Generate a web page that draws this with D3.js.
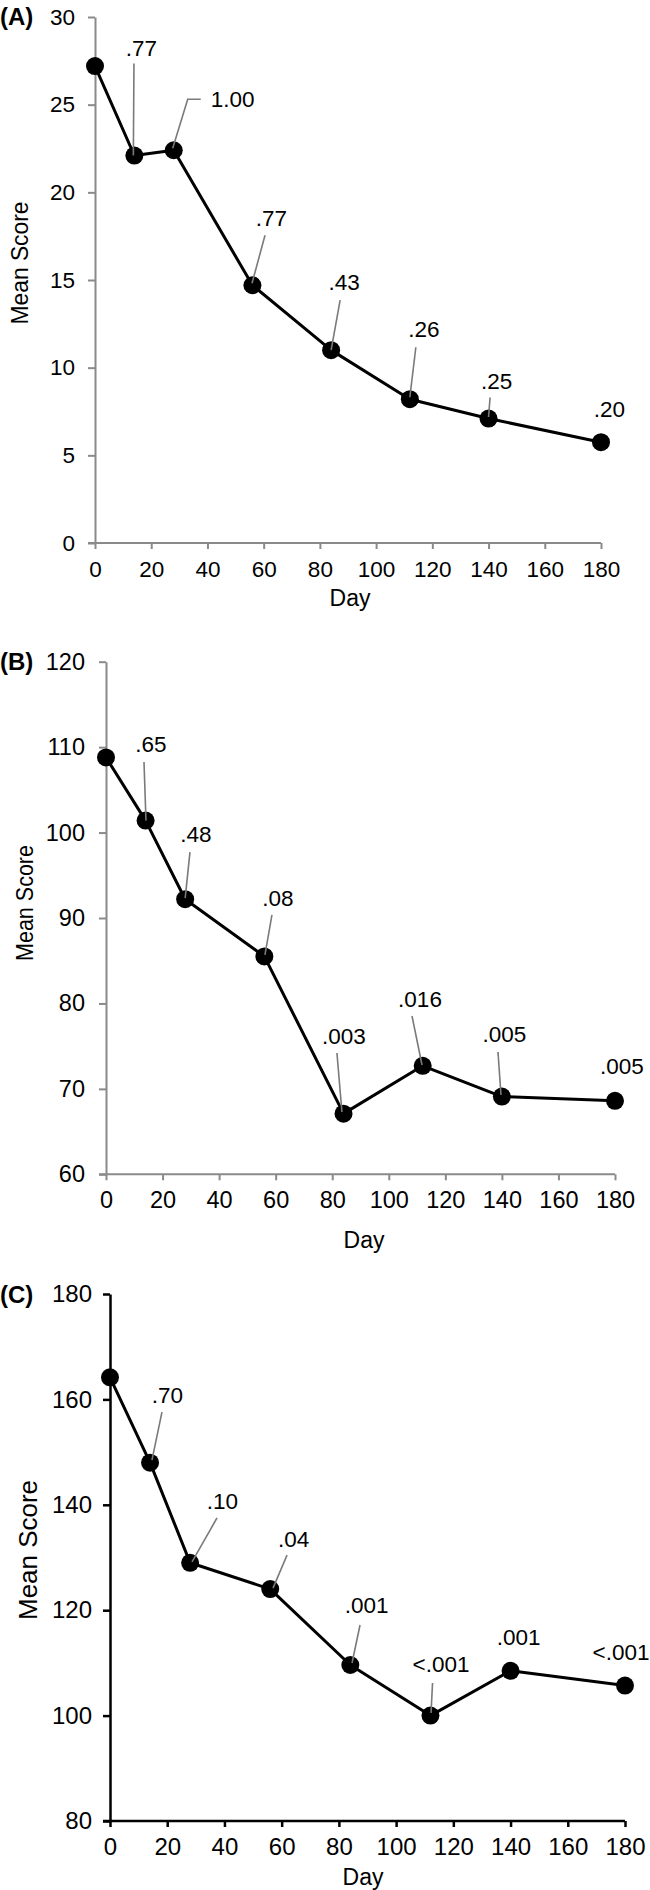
<!DOCTYPE html>
<html>
<head>
<meta charset="utf-8">
<script src="https://cdn.jsdelivr.net/npm/d3@7"></script>
<style>
  html, body { margin: 0; padding: 0; background: #fff; }
  svg { display: block; font-family: "Liberation Sans", Arial, sans-serif; }
</style>
</head>
<body>
<svg id="chart" width="650" height="1890"></svg>
<script>
// ---------------- DATA ----------------
const days = [0, 14, 28, 56, 84, 112, 140, 180];
const xTicks = [0, 20, 40, 60, 80, 100, 120, 140, 160, 180];

const scoresA = [27.2, 22.1, 22.4, 14.7, 11.0, 8.2, 7.1, 5.75];
const scoresB = [108.8, 101.4, 92.2, 85.5, 67.1, 72.7, 69.1, 68.6];
const scoresC = [164.2, 148.0, 129.0, 124.0, 109.6, 100.0, 108.5, 105.7];

const pValuesA = ["", ".77", "1.00", ".77", ".43", ".26", ".25", ".20"];
const pValuesB = ["", ".65", ".48", ".08", ".003", ".016", ".005", ".005"];
const pValuesC = ["", ".70", ".10", ".04", ".001", "<.001", ".001", "<.001"];

const yTicksA = [0, 5, 10, 15, 20, 25, 30];
const yTicksB = [60, 70, 80, 90, 100, 110, 120];
const yTicksC = [80, 100, 120, 140, 160, 180];

const panelLabels = ["(A)", "(B)", "(C)"];
const xTitle = "Day";
const yTitle = "Mean Score";

// ---------------- LAYOUT (pixels, not data) ----------------
// label: [dx, dy] text centre / baseline offset from the point
// lead: leader line points, offsets from the point (null = no leader)
const layoutA = {
  x0: 95, x1: 601, yTop: 17, yBot: 543, yDomain: [0, 30],
  axisColor: "#8a8a8a", axisWidth: 2, tickFont: 22.5, tickPadY: 13, tickPadX: 12,
  dayY: 606, dayX: 350, titleX: 28, titleY: 263, titleLen: 123, titleFont: 23,
  panelY: 25,
  label: [null, [7, -100], [59, -43], [19, -59], [13, -60], [14, -62], [8, -30], [8.5, -25]],
  lead: [null,
    [[-0.4, -92], [-1, 0]],
    [[27, -51], [14, -51], [-1, -2]],
    [[12.6, -50], [-0.4, -2]],
    [[9, -50], [0, 0]],
    [[6, -52], [0, -2]],
    [[1.5, -21], [0, -1.5]],
    null]
};
const layoutB = {
  x0: 106, x1: 615, yTop: 661.7, yBot: 1174.3, yDomain: [60, 120],
  axisColor: "#8a8a8a", axisWidth: 2, tickFont: 23.5, tickPadY: 14, tickPadX: 11.5,
  dayY: 1248, dayX: 364, titleX: 33, titleY: 903, titleLen: 116, titleFont: 24,
  panelY: 670,
  label: [null, [5.4, -68.6], [10.8, -57], [13.6, -50.5], [0.4, -69.6], [-2.7, -58.8], [2.6, -54.6], [7, -26.8]],
  lead: [null,
    [[-1.6, -58.6], [0.4, 0]],
    [[4.8, -47], [0, -1]],
    [[7.6, -41.5], [0.6, -1.5]],
    [[-6.6, -60.6], [-1.6, -1.6]],
    [[-10.7, -49.8], [-0.7, -0.8]],
    [[-3.9, -44.6], [-0.9, -1.6]],
    null]
};
const layoutC = {
  x0: 110, x1: 625, yTop: 1294, yBot: 1821, yDomain: [80, 180],
  axisColor: "#000", axisWidth: 2.5, tickFont: 24, tickPadY: 11, tickPadX: 11,
  dayY: 1885, dayX: 363, titleX: 36.5, titleY: 1550, titleLen: 140, titleFont: 26,
  panelY: 1303,
  label: [null, [17.4, -59.6], [32.4, -53.8], [23.3, -42], [16.2, -52], [10.6, -43.6], [8, -25.8], [-4, -25.6]],
  lead: [null,
    [[11.9, -50.6], [1.9, -2.6]],
    [[26.9, -44.8], [1.9, -0.8]],
    [[16.8, -34], [2.8, -1]],
    [[9.7, -40], [1.7, -2]],
    [[2.1, -32.6], [0.6, -2.6]],
    null,
    null]
};

const svg = d3.select("#chart");

function drawPanel(values, pvals, yTicks, panelLabel, L) {
  const g = svg.append("g");
  const x = d3.scaleLinear().domain([0, 180]).range([L.x0, L.x1]);
  const y = d3.scaleLinear().domain(L.yDomain).range([L.yBot, L.yTop]);

  const yAxis = g.append("g")
    .attr("transform", `translate(${L.x0},0)`)
    .call(d3.axisLeft(y).tickValues(yTicks).tickSize(7).tickSizeOuter(0).tickPadding(L.tickPadY).tickFormat(d3.format("d")));
  const xAxis = g.append("g")
    .attr("transform", `translate(0,${L.yBot})`)
    .call(d3.axisBottom(x).tickValues(xTicks).tickSize(6).tickSizeOuter(0).tickPadding(L.tickPadX).tickFormat(d3.format("d")));

  [yAxis, xAxis].forEach(a => {
    a.select(".domain").attr("stroke", L.axisColor).attr("stroke-width", L.axisWidth);
    a.selectAll(".tick line").attr("stroke", L.axisColor).attr("stroke-width", L.axisWidth);
    a.selectAll(".tick text").attr("fill", "#000").style("font-size", L.tickFont + "px")
      .style("font-family", '"Liberation Sans", Arial, sans-serif');
  });
  xAxis.select(".domain").attr("d", `M${L.x0 - 7},0H${L.x1}`);

  g.append("text").attr("x", L.dayX).attr("y", L.dayY).attr("text-anchor", "middle")
    .style("font-size", "23px").text(xTitle);
  g.append("text")
    .attr("transform", `translate(${L.titleX},${L.titleY}) rotate(-90)`)
    .attr("text-anchor", "middle")
    .attr("textLength", L.titleLen).attr("lengthAdjust", "spacingAndGlyphs")
    .style("font-size", L.titleFont + "px").text(yTitle);
  g.append("text").attr("x", 0).attr("y", L.panelY)
    .style("font-size", "24px").style("font-weight", "bold").text(panelLabel);

  const pts = days.map((d, i) => ({ d, v: values[i], p: pvals[i], i }));
  const leadGen = d3.line();

  // data line
  g.append("path").datum(pts)
    .attr("fill", "none").attr("stroke", "#000").attr("stroke-width", 3)
    .attr("stroke-linejoin", "round")
    .attr("d", d3.line().x(p => x(p.d)).y(p => y(p.v)));

  // markers
  g.selectAll("circle").data(pts).join("circle")
    .attr("cx", p => x(p.d)).attr("cy", p => y(p.v)).attr("r", 9).attr("fill", "#000");

  // leader lines (drawn over the markers as in the original)
  g.selectAll("path.lead").data(pts.filter(p => L.lead[p.i])).join("path")
    .attr("class", "lead")
    .attr("fill", "none").attr("stroke", "#7a7a7a").attr("stroke-width", 1.6)
    .attr("d", p => leadGen(L.lead[p.i].map(o => [x(p.d) + o[0], y(p.v) + o[1]])));

  // p-value labels
  g.selectAll("text.pv").data(pts.filter(p => p.p)).join("text")
    .attr("class", "pv")
    .attr("x", p => x(p.d) + L.label[p.i][0])
    .attr("y", p => y(p.v) + L.label[p.i][1])
    .attr("text-anchor", "middle")
    .style("font-size", "22.5px").text(p => p.p);
}

drawPanel(scoresA, pValuesA, yTicksA, panelLabels[0], layoutA);
drawPanel(scoresB, pValuesB, yTicksB, panelLabels[1], layoutB);
drawPanel(scoresC, pValuesC, yTicksC, panelLabels[2], layoutC);
</script>
</body>
</html>
